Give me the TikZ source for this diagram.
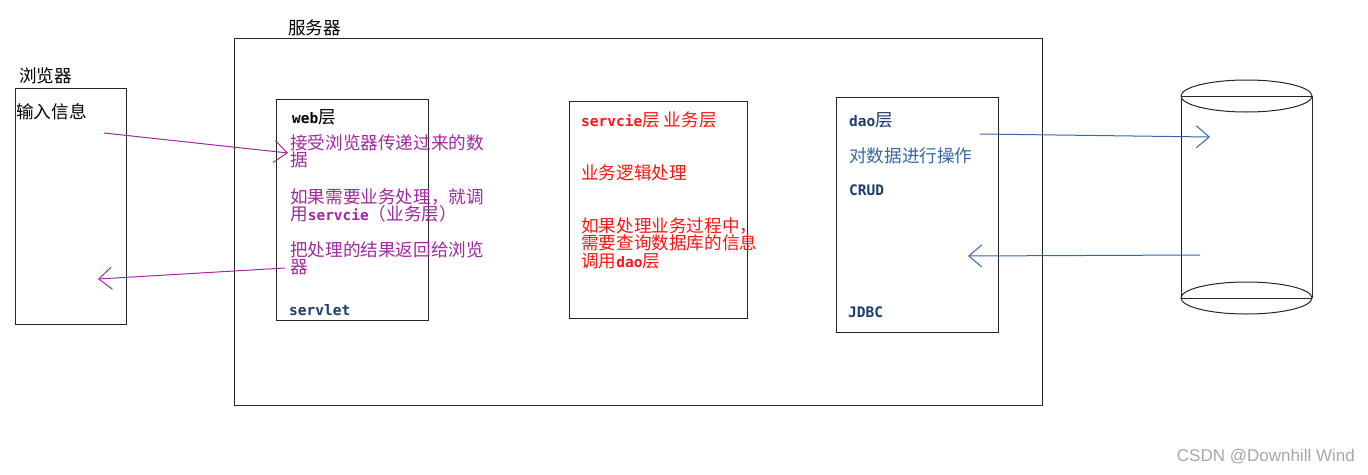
\documentclass[tikz,border=0pt]{standalone}
\usepackage{fontspec}
\setmainfont{Noto Sans CJK SC}
\setmonofont{DejaVu Sans Mono}
\newfontfamily\wmfont{Liberation Sans}
\usetikzlibrary{arrows.meta}
\definecolor{archMagenta}{HTML}{A028A0}
\definecolor{archRed}{HTML}{FF1414}
\definecolor{archNavy}{HTML}{1C3C6E}
\definecolor{archBlue}{HTML}{3566A8}
\definecolor{archGray}{HTML}{A6A6A6}
\newcommand{\mb}[1]{{\ttfamily\bfseries\fontsize{14.5}{15}\selectfont #1}}
\tikzset{
  arch box/.style={draw=black!85, line width=1pt, inner sep=0pt, anchor=north west},
  arch text/.style={inner sep=0pt, anchor=west, font=\fontsize{17.6}{17.5}\selectfont},
  arch para/.style={inner sep=0pt, anchor=north west, align=left, font=\fontsize{17.6}{17.5}\selectfont},
  arch arrow/.style={line width=1pt, -{Straight Barb[length=13pt,width=22pt,line width=1pt]}},
  arch db/.style={draw=black!85, line width=1pt},
}

\begin{document}
\begin{tikzpicture}[x=1pt,y=-1pt]
\useasboundingbox (0,0) rectangle (1368,474);
% boxes
\node[arch box, minimum width=111, minimum height=236] (browser) at (15,88) {};
\node[arch box, minimum width=808, minimum height=367] (server) at (234,38) {};
\node[arch box, minimum width=152, minimum height=221] (web) at (276,99) {};
\node[arch box, minimum width=178, minimum height=217] (service) at (569,101) {};
\node[arch box, minimum width=162, minimum height=235] (dao) at (836,97) {};
% titles
\node[arch text] (browserlbl) at (19,76) {浏览器};
\node[arch text] (serverlbl) at (288,28) {服务器};
\node[arch text] (inputlbl) at (16,112) {输入信息};
% web layer
\node[arch text] (webtitle) at (292,117) {\mb{web}层};
\node[arch para, text=archMagenta] (webrecv) at (290,134) {接受浏览器传递过来的数\\据};
\node[arch para, text=archMagenta] (webcall) at (290,188) {如果需要业务处理，就调\\用\mb{servcie}（业务层）};
\node[arch para, text=archMagenta] (webback) at (290,241) {把处理的结果返回给浏览\\器};
\node[arch text, text=archNavy] (servlet) at (289,310) {\mb{servlet}};
% service layer
\node[arch text, text=archRed] (svctitle) at (581,120) {\mb{servcie}层\ 业务层};
\node[arch text, text=archRed] (svclogic) at (581,173) {业务逻辑处理};
\node[arch para, text=archRed] (svccall) at (581,217) {如果处理业务过程中，\\需要查询数据库的信息\\调用\mb{dao}层};
% dao layer
\node[arch text, text=archNavy] (daotitle) at (849,120) {\mb{dao}层};
\node[arch text, text=archBlue] (daoop) at (849,156) {对数据进行操作};
\node[arch text, text=archNavy] (crud) at (849,190) {\mb{CRUD}};
\node[arch text, text=archNavy] (jdbc) at (848,312) {\mb{JDBC}};
% database
\draw[arch db] (1246.5,96) ellipse [x radius=65.5, y radius=16];
\draw[arch db] (1246.5,298) ellipse [x radius=65.5, y radius=16];
\draw[arch db] (1181,96) -- (1312,96) (1181,298) -- (1312,298);
\draw[arch db] (1181,96) -- (1181,298) (1312,96) -- (1312,298);
% arrows
\coordinate (reqfrom) at (104,133);
\coordinate (reqto) at (288,153);
\coordinate (respfrom) at (285,268);
\coordinate (respto) at (98,279);
\coordinate (sqlfrom) at (980,134);
\coordinate (sqlto) at (1210,137);
\coordinate (rowsfrom) at (1200,255);
\coordinate (rowsto) at (968,256);
\draw[arch arrow, draw=archMagenta] (reqfrom) -- (reqto);
\draw[arch arrow, draw=archMagenta] (respfrom) -- (respto);
\draw[arch arrow, draw=archBlue] (sqlfrom) -- (sqlto);
\draw[arch arrow, draw=archBlue] (rowsfrom) -- (rowsto);
% watermark
\node[inner sep=0pt, anchor=east, text=archGray, font=\wmfont\fontsize{17}{17}\selectfont] (mark) at (1355,457) {CSDN @Downhill Wind};
\end{tikzpicture}
\end{document}
